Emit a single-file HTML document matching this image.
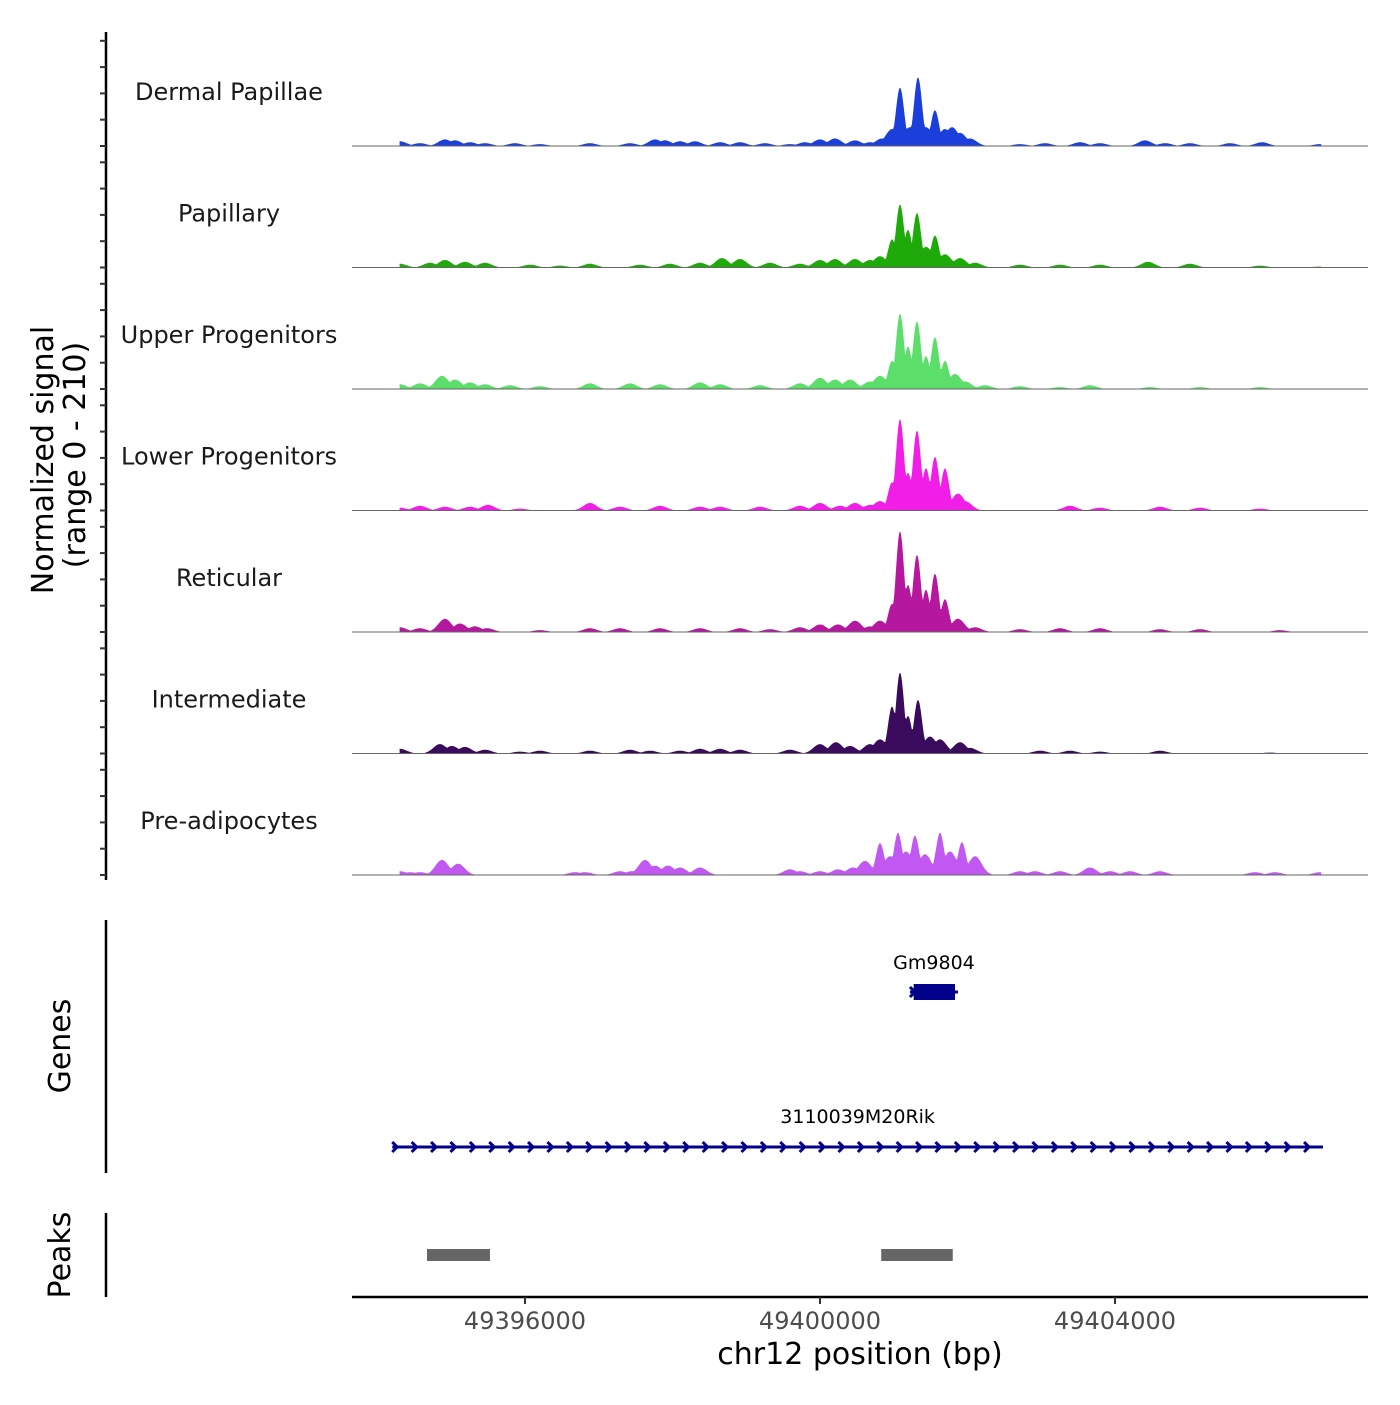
<!DOCTYPE html>
<html><head><meta charset="utf-8"><style>
html,body{margin:0;padding:0;background:#fff}
svg text{font-family:"DejaVu Sans","Liberation Sans",sans-serif}
</style></head><body>
<svg id="chart" width="1400" height="1400" viewBox="0 0 1400 1400" xmlns="http://www.w3.org/2000/svg">
<rect width="1400" height="1400" fill="#fff"/>
<g id="tracks"></g>
<g id="axisL"></g>
<text transform="translate(53,460) rotate(-90)" text-anchor="middle" font-size="30" fill="#000">Normalized signal</text>
<text transform="translate(85,455) rotate(-90)" text-anchor="middle" font-size="30" fill="#000">(range 0 - 210)</text>
<line x1="106" y1="920" x2="106" y2="1173" stroke="#000" stroke-width="2.5"/>
<text transform="translate(70,1046) rotate(-90)" text-anchor="middle" font-size="30">Genes</text>
<line x1="106" y1="1213" x2="106" y2="1297" stroke="#000" stroke-width="2.5"/>
<text transform="translate(70,1255) rotate(-90)" text-anchor="middle" font-size="30">Peaks</text>
<g id="genes"></g>
<g id="peaks"></g>
<g id="xaxis"></g>
<text x="860" y="1364" text-anchor="middle" font-size="30">chr12 position (bp)</text>
</svg>
<script>
const trackNames = ["Dermal Papillae","Papillary","Upper Progenitors","Lower Progenitors","Reticular","Intermediate","Pre-adipocytes"];
const trackColors = ["#1a3fdb","#1eab0a","#5cde6a","#f01ee6","#b5179e","#3a0a5c","#c158f2"];
const pos0 = [49394305,49394576,49394915,49395051,49395254,49395458,49395864,49396203,49396881,49397424,49397763,49397898,49398102,49398305,49398644,49398915,49399254,49399593,49399797,49400000,49400203,49400475,49400678,49400841,49400977,49401085,49401220,49401329,49401437,49401559,49401695,49401790,49401898,49402034,49402712,49403051,49403525,49403797,49404407,49404678,49405017,49405559,49405993,49406780];
const val0 = [5,3,7,6,4,3,3,2,3,3,7,6,5,5,4,4,3,2,4,7,8,6,4,8,18,62,20,73,20,38,18,20,14,8,2,3,4,3,6,3,3,3,4,2];
const pos1 = [49394305,49394712,49394915,49395186,49395458,49396068,49396475,49396881,49397559,49397966,49398373,49398671,49398915,49399322,49399729,49400000,49400203,49400475,49400678,49400814,49400977,49401085,49401193,49401315,49401437,49401559,49401695,49401898,49402102,49402712,49403254,49403797,49404448,49405017,49405966,49406780];
const val1 = [4,5,8,6,5,3,2,4,3,4,5,10,9,5,4,8,9,9,8,12,30,67,40,58,22,34,14,10,5,3,3,3,6,4,2,1];
const pos2 = [49394305,49394576,49394875,49395051,49395254,49395458,49395797,49396203,49396881,49397424,49397831,49398373,49398644,49399187,49399729,49400000,49400203,49400407,49400678,49400814,49400977,49401085,49401193,49401315,49401437,49401559,49401695,49401831,49401966,49402237,49402712,49403254,49403661,49404475,49405153,49405966];
const val2 = [5,6,14,10,7,5,4,3,6,6,5,7,5,4,6,12,10,10,8,14,30,80,45,72,35,55,30,16,8,4,3,2,4,2,2,2];
const pos3 = [49394305,49394576,49394915,49395254,49395498,49395932,49396881,49397288,49397831,49398373,49398644,49399187,49399729,49400000,49400271,49400475,49400678,49400814,49400977,49401085,49401193,49401315,49401437,49401559,49401695,49401871,49401966,49403390,49403797,49404610,49405153,49405966];
const val3 = [3,5,4,4,6,2,8,4,5,4,4,4,5,8,5,8,6,10,30,97,40,85,45,57,45,18,10,5,3,4,3,2];
const pos4 = [49394305,49394576,49394915,49395119,49395322,49395485,49396203,49396881,49397288,49397831,49398373,49398915,49399322,49399729,49400000,49400244,49400475,49400678,49400814,49400977,49401085,49401193,49401315,49401437,49401559,49401695,49401871,49402102,49402712,49403254,49403797,49404610,49405153,49406237];
const val4 = [5,4,14,9,6,4,2,4,4,4,4,4,3,5,8,8,12,6,12,30,107,50,82,45,62,35,14,5,3,4,4,3,3,2];
const pos5 = [49394305,49394847,49395010,49395186,49395458,49395932,49396203,49396881,49397424,49397695,49398102,49398373,49398644,49398915,49399593,49400000,49400217,49400407,49400678,49400814,49400977,49401085,49401193,49401329,49401492,49401627,49401898,49402034,49402983,49403390,49403797,49404610,49406102];
const val5 = [5,10,8,7,4,2,3,3,4,3,3,5,5,4,4,10,12,8,10,15,50,86,40,57,18,15,12,6,3,3,2,3,1];
const pos6 = [49394305,49394441,49394576,49394875,49395092,49396678,49396814,49397288,49397451,49397627,49397763,49397939,49398102,49398373,49399593,49399729,49400000,49400244,49400448,49400610,49400814,49400949,49401058,49401166,49401288,49401424,49401627,49401763,49401925,49402102,49402712,49402915,49403254,49403661,49403932,49404203,49404610,49405898,49406169,49406780];
const val6 = [4,3,3,16,12,3,3,4,4,16,10,10,8,8,6,4,4,6,8,15,34,20,45,25,42,22,45,25,35,20,4,4,4,8,4,4,4,3,3,3];
const trackPos = [pos0,pos1,pos2,pos3,pos4,pos5,pos6];
const trackVals = [val0,val1,val2,val3,val4,val5,val6];
const xTicks = [49396000,49400000,49404000];
const genes = [{name:"Gm9804",start:49401220,end:49401871,cdsStart:49401270,cdsEnd:49401831,row:0},{name:"3110039M20Rik",start:49394200,end:49406820,cdsStart:null,cdsEnd:null,row:1}];
const peakStarts = [49394671,49400830];
const peakEnds = [49395525,49401800];

const NS="http://www.w3.org/2000/svg";
function mk(tag,attrs,parent){const e=document.createElementNS(NS,tag);for(const k in attrs)e.setAttribute(k,attrs[k]);parent.appendChild(e);return e;}
const X0=352,X1=1368;
function xScale(bp){return 525+(bp-49396000)*0.07375;}
const trackTop=32, trackH=121.5, yMax=121;
function yScale(v,i){const base=trackTop+(i+1)*trackH-7.5;return base - v/yMax*114;}
function baseY(i){return trackTop+(i+1)*trackH-7.5;}

const tg=document.getElementById('tracks');
const dataStart=49394300, dataEnd=49406800;
trackNames.forEach((nm,i)=>{
  const g=mk('g',{},tg);
  
  
  const lbl=mk('text',{x:229,y:baseY(i)-46,'text-anchor':'middle','font-size':24,fill:'#1a1a1a'},g);
  lbl.textContent=nm;
  
  
  const P=trackPos[i],V=trackVals[i];
  let d='M'+xScale(dataStart)+','+baseY(i);
  for(let bp=dataStart;bp<=dataEnd;bp+=15){
    let v=0;
    for(let k=0;k<P.length;k++){const sig=V[k]>25?55:90;const dd=(bp-P[k])/sig;if(Math.abs(dd)<4){const s=V[k]*Math.exp(-0.5*dd*dd);if(s>v)v=s;}}
    if(v<0.6)v=0;
    d+=' L'+xScale(bp).toFixed(1)+','+yScale(v,i).toFixed(1);
  }
  d+=' L'+xScale(dataEnd)+','+baseY(i)+' Z';
  const p=mk('path',{d:d,fill:trackColors[i],stroke:'none'},g);
  
  
  const bl=mk('line',{x1:X0,x2:X1,y1:baseY(i),y2:baseY(i),stroke:'#666','stroke-width':1},g);
  
  
});
const ax=document.getElementById('axisL');
const al=mk('line',{x1:106,x2:106,y1:32,y2:880,stroke:'#000','stroke-width':2.5},ax);


for(let i=0;i<7;i++){for(let k=0;k<5;k++){const y=baseY(i)-k*26.3;
  const t=mk('line',{x1:100,x2:106,y1:y,y2:y,stroke:'#333','stroke-width':2},ax);
  
  }}
const gg=document.getElementById('genes');
const rowY=[992,1147], lblY=[969,1123];
genes.forEach(gn=>{
  const y=rowY[gn.row];
  const ln=mk('line',{x1:xScale(gn.start),x2:xScale(gn.end),y1:y,y2:y,stroke:'#00008b','stroke-width':3},gg);
  
  
  for(let x=xScale(gn.start)+3;x<=xScale(gn.end)-2;x+=19.4){
    const c=mk('path',{d:`M${x-3},${y-5} L${x+2},${y} L${x-3},${y+5}`,fill:'none',stroke:'#00008b','stroke-width':3},gg);
    
    
  }
  if(gn.cdsStart!==null){
    const r=mk('rect',{x:xScale(gn.cdsStart),y:y-8,width:xScale(gn.cdsEnd)-xScale(gn.cdsStart),height:16,fill:'#00008b'},gg);
    
    
  }
  const t=mk('text',{x:(xScale(gn.start)+xScale(gn.end))/2,y:lblY[gn.row],'text-anchor':'middle','font-size':19,fill:'#000'},gg);
  t.textContent=gn.name;
  
  
});
const pg=document.getElementById('peaks');
peakStarts.forEach((s,k)=>{
  const r=mk('rect',{x:xScale(s),y:1249,width:xScale(peakEnds[k])-xScale(s),height:12,fill:'#666'},pg);
  
  
});
const xg=document.getElementById('xaxis');
const xl=mk('line',{x1:X0,x2:X1,y1:1297,y2:1297,stroke:'#000','stroke-width':2.5},xg);


xTicks.forEach(v=>{
  const x=xScale(v);
  const t=mk('line',{x1:x,x2:x,y1:1297,y2:1304,stroke:'#333','stroke-width':2},xg);
  
  
  const l=mk('text',{x:x,y:1329,'text-anchor':'middle','font-size':24,fill:'#4d4d4d'},xg);
  l.textContent=String(v);
  
  
});
</script>
</body></html>
